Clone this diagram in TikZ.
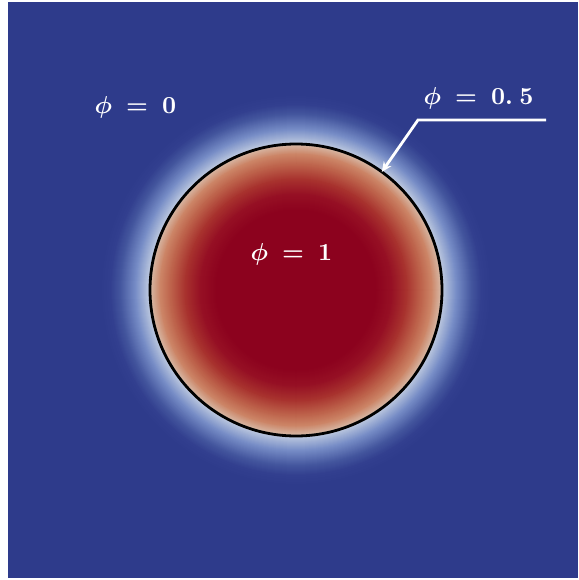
\documentclass[tikz,border=0pt]{standalone}
\usetikzlibrary{arrows.meta}
\definecolor{bgblue}{RGB}{46,59,139}
\begin{document}
\begin{tikzpicture}[x=1pt,y=-1pt,
  lab/.style={text=white,font=\normalsize\boldmath,inner sep=0pt,scale=2.45},
  pointer/.style={white,line width=2.8pt,line join=miter,-{Stealth[length=10pt,width=9pt]}}]
\useasboundingbox (0,0) rectangle (578,580);
\fill[white] (0,0) rectangle (578,580);
\fill[bgblue] (8,2) rectangle (578,578);
\coordinate (c) at (296,290);
% radial colour profile: distance from interface / RGB
\foreach \da/\Ra/\Ga/\Ba/\db/\Rb/\Gb/\Bb in {
  50/46/59/139/40/50/63/143,
  40/50/63/143/30/68/86/158,
  30/68/86/158/15/118/140/198,
  15/118/140/198/5/168/183/216,
  5/168/183/216/1/190/201/224,
  1/190/201/224/-1/214/180/160,
  -1/214/180/160/-10/204/132/102,
  -10/204/132/102/-20/190/100/76,
  -20/190/100/76/-35/168/50/46,
  -35/168/50/46/-50/150/16/36,
  -50/150/16/36/-66/140/2/30}{
  \pgfmathtruncatemacro\dn{\da-1}
  \foreach \d in {\da,\dn,...,\db}{
    \pgfmathsetmacro\t{(\da-\d)/(\da-\db)}
    \pgfmathtruncatemacro\R{round(\Ra+(\Rb-\Ra)*\t)}
    \pgfmathtruncatemacro\G{round(\Ga+(\Gb-\Ga)*\t)}
    \pgfmathtruncatemacro\B{round(\Ba+(\Bb-\Ba)*\t)}
    \pgfmathsetmacro\rad{146+\d}
    \definecolor{cc}{RGB}{\R,\G,\B}
    \fill[cc] (c) circle (\rad pt);
  }
}
\node[circle,draw=black,line width=2.8pt,minimum size=292pt,inner sep=0pt,outer sep=0pt] (iface) at (c) {};
\node[lab] (l0) at (135.5,107.5) {$\phi\mskip4mu=\mskip4mu0$};
\node[lab] (l1) at (291.5,254) {$\phi\mskip4mu=\mskip4mu1$};
\node[lab] (lh) at (478.5,98) {$\phi\mskip4mu=\mskip4mu0.\mskip4mu5$};
\coordinate (lineend) at (546,120);
\coordinate (knee) at (418,120);
\draw[pointer] (lineend) -- (knee) -- (iface.54);
\end{tikzpicture}
\end{document}
